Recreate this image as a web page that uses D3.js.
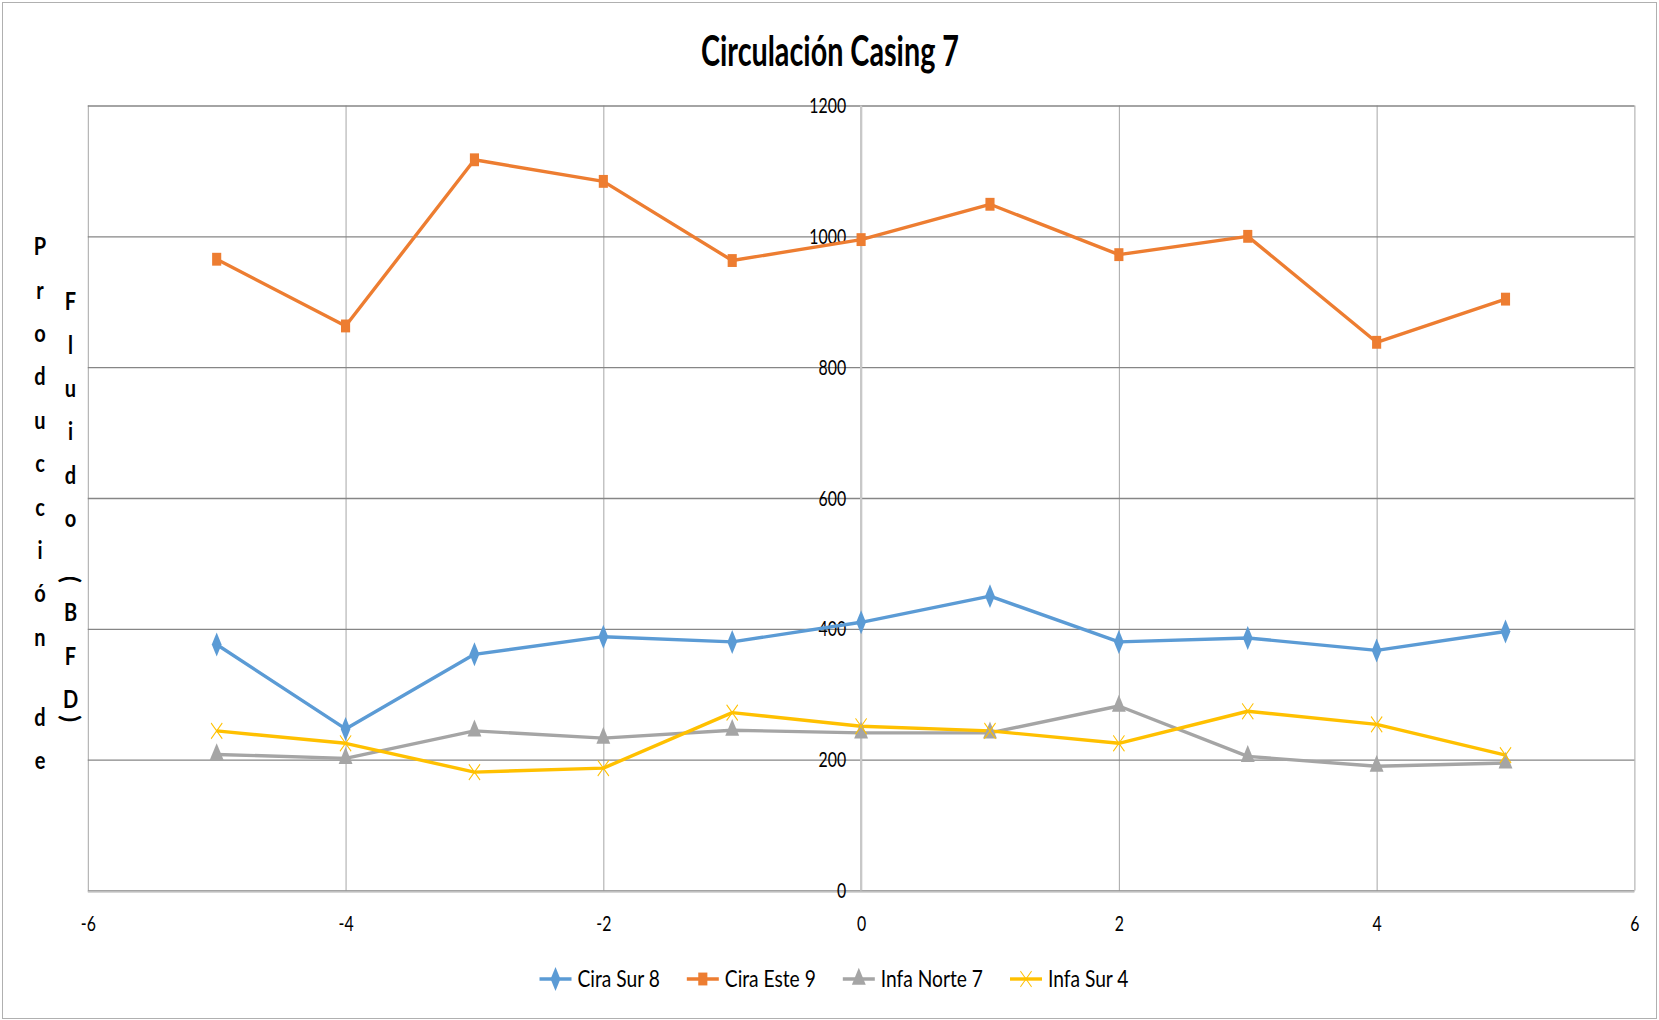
<!DOCTYPE html>
<html>
<head>
<meta charset="utf-8">
<script src="https://cdn.jsdelivr.net/npm/d3@7"></script>
<style>
  html, body { margin: 0; padding: 0; background: #fff; }
  svg { display: block; }
  text { font-family: Lato, "Open Sans", "Liberation Sans", sans-serif; fill: #000; }
</style>
</head>
<body>
<svg width="1659" height="1020"></svg>
<script>
// ---- data ----
const chartTitle = "Circulación Casing 7";
const yTitleCols = ["Producción de", "Fluido (BFD)"];
const xValues   = [-5, -4, -3, -2, -1, 0, 1, 2, 3, 4, 5];
const xTicks    = [-6, -4, -2, 0, 2, 4, 6];
const yTicks    = [0, 200, 400, 600, 800, 1000, 1200];
const seriesNames = ["Cira Sur 8", "Cira Este 9", "Infa Norte 7", "Infa Sur 4"];
const ciraSur8   = [376, 247, 361, 388, 380, 410, 450, 380, 386, 367, 396];
const ciraEste9  = [965, 863, 1117, 1084, 963, 995, 1049, 972, 1000, 838, 904];
const infaNorte7 = [208, 202, 244, 233, 245, 241, 241, 282, 205, 190, 195];
const infaSur4   = [244, 225, 181, 187, 272, 251, 244, 225, 274, 254, 207];

const colors  = ["#5B9BD5", "#ED7D31", "#A5A5A5", "#FFC000"];
const symbols = [d3.symbolDiamond, d3.symbolSquare, d3.symbolTriangle, d3.symbolTimes];

const series = seriesNames.map((name, i) => ({
  name,
  color: colors[i],
  symbol: symbols[i],
  values: [ciraSur8, ciraEste9, infaNorte7, infaSur4][i].map((v, j) => ({x: xValues[j], y: v}))
}));

const W = 1659, H = 1020;
const plot = {left: 87.8, right: 1634.4, top: 105.5, bottom: 890.5};
const svg = d3.select("svg");

// the source picture has squeezed, narrow lettering
function condense(sel, f) {
  sel.each(function() {
    const len = this.getComputedTextLength();
    d3.select(this).attr("textLength", len * f).attr("lengthAdjust", "spacingAndGlyphs");
  });
}

// outer chart border
svg.append("rect")
  .attr("x", 2.5).attr("y", 2.5).attr("width", W - 5).attr("height", H - 4)
  .attr("fill", "none").attr("stroke", "#b0b0b0").attr("stroke-width", 1);

const x = d3.scaleLinear().domain([-6, 6]).range([plot.left, plot.right]);
const y = d3.scaleLinear().domain([0, 1200]).range([plot.bottom, plot.top]);

// -------- gridlines --------
svg.append("g")
  .attr("transform", `translate(0,${plot.bottom})`)
  .call(d3.axisBottom(x).tickValues(xTicks).tickSize(-(plot.bottom - plot.top)).tickFormat(""))
  .call(g => g.select(".domain").remove())
  .call(g => g.selectAll("line").attr("stroke", "#a6a6a6").attr("stroke-width", 1));

svg.append("g")
  .attr("transform", `translate(${plot.left},0)`)
  .call(d3.axisLeft(y).tickValues(yTicks).tickSize(-(plot.right - plot.left)).tickFormat(""))
  .call(g => g.select(".domain").remove())
  .call(g => g.selectAll("line").attr("stroke", "#868686").attr("stroke-width", 1.3));

// axis lines (x=0 vertical, y=0 horizontal)
svg.append("line")
  .attr("x1", x(0)).attr("x2", x(0)).attr("y1", plot.top).attr("y2", plot.bottom)
  .attr("stroke", "#c8c8c8").attr("stroke-width", 2.2);
svg.append("line")
  .attr("x1", plot.left).attr("x2", plot.right).attr("y1", y(0) + 1.5).attr("y2", y(0) + 1.5)
  .attr("stroke", "#c8c8c8").attr("stroke-width", 1.5);

// -------- tick labels --------
svg.append("g")
  .attr("transform", `translate(${x(0)},0)`)
  .call(d3.axisLeft(y).tickValues(yTicks).tickSize(0).tickPadding(15).tickFormat(d => String(d)))
  .call(g => g.select(".domain").remove())
  .call(g => g.selectAll("text").style("font-size", "22px").attr("fill", "#000").call(condense, 0.72));

svg.append("g")
  .attr("transform", `translate(0,${plot.bottom})`)
  .call(d3.axisBottom(x).tickValues(xTicks).tickSize(0).tickPadding(25).tickFormat(d => String(d)))
  .call(g => g.select(".domain").remove())
  .call(g => g.selectAll("text").style("font-size", "22px").attr("fill", "#000").call(condense, 0.72));

// -------- lines + markers --------
const line = d3.line().x(d => x(d.x)).y(d => y(d.y));

series.forEach(s => {
  svg.append("path")
    .datum(s.values)
    .attr("d", line)
    .attr("fill", "none")
    .attr("stroke", s.color)
    .attr("stroke-width", 3.4)
    .attr("stroke-linejoin", "round");
});

function drawMarker(g, s, cx, cy) {
  const stroked = s.symbol === d3.symbolTimes;
  g.append("path")
    .attr("d", d3.symbol().type(s.symbol).size(115)())
    .attr("transform", `translate(${cx},${cy}) scale(0.85,1.2)`)
    .attr("fill", stroked ? "none" : s.color)
    .attr("stroke", s.color)
    .attr("stroke-width", stroked ? 1.1 : 0);
}

series.forEach(s => {
  const g = svg.append("g");
  s.values.forEach(d => drawMarker(g, s, x(d.x), y(d.y)));
});

// -------- title --------
svg.append("text")
  .attr("x", 830).attr("y", 66)
  .attr("text-anchor", "middle")
  .style("font-size", "42px").style("font-weight", "bold")
  .attr("textLength", 258).attr("lengthAdjust", "spacingAndGlyphs")
  .text(chartTitle);

// -------- stacked y-axis title --------
const step = 43.4;
const colX = [40, 70.5];
const colStart = [246.5, 301.5];
const spaceAdv = [36.6, 17.6];
yTitleCols.forEach((str, ci) => {
  let yy = colStart[ci];
  [...str].forEach(ch => {
    if (ch === " ") { yy += spaceAdv[ci]; return; }
    if (ch === "(" || ch === ")") {
      const py = ch === "(" ? yy : yy - 24;
      svg.append("text")
        .attr("transform", `translate(${colX[ci]},${py}) rotate(90)`)
        .attr("text-anchor", "middle").attr("dy", "0.35em")
        .style("font-size", "25px").style("font-weight", "bold")
        .text(ch);
      if (ch === "(") yy += 33;
      return;
    }
    svg.append("text")
      .attr("x", colX[ci]).attr("y", yy)
      .attr("text-anchor", "middle").attr("dy", "0.35em")
      .style("font-size", "25px").style("font-weight", "bold")
      .text(ch)
      .call(condense, 0.8);
    yy += step;
  });
});

// -------- legend --------
const legend = svg.append("g");
const legendY = 979, lineLen = 32, textGap = 6, itemGap = 27;
const items = series.map(s => {
  const g = legend.append("g");
  g.append("line").attr("x1", 0).attr("x2", lineLen).attr("y1", 0).attr("y2", 0)
    .attr("stroke", s.color).attr("stroke-width", 3.4);
  drawMarker(g, s, lineLen / 2, 0);
  const t = g.append("text").attr("x", lineLen + textGap).attr("dy", "0.35em")
    .style("font-size", "24px").text(s.name).call(condense, 0.8);
  return {g, w: lineLen + textGap + +t.attr("textLength")};
});
const totalW = d3.sum(items, d => d.w) + itemGap * (items.length - 1);
let lx = 834 - totalW / 2;
items.forEach(it => {
  it.g.attr("transform", `translate(${lx},${legendY})`);
  lx += it.w + itemGap;
});
</script>
</body>
</html>
